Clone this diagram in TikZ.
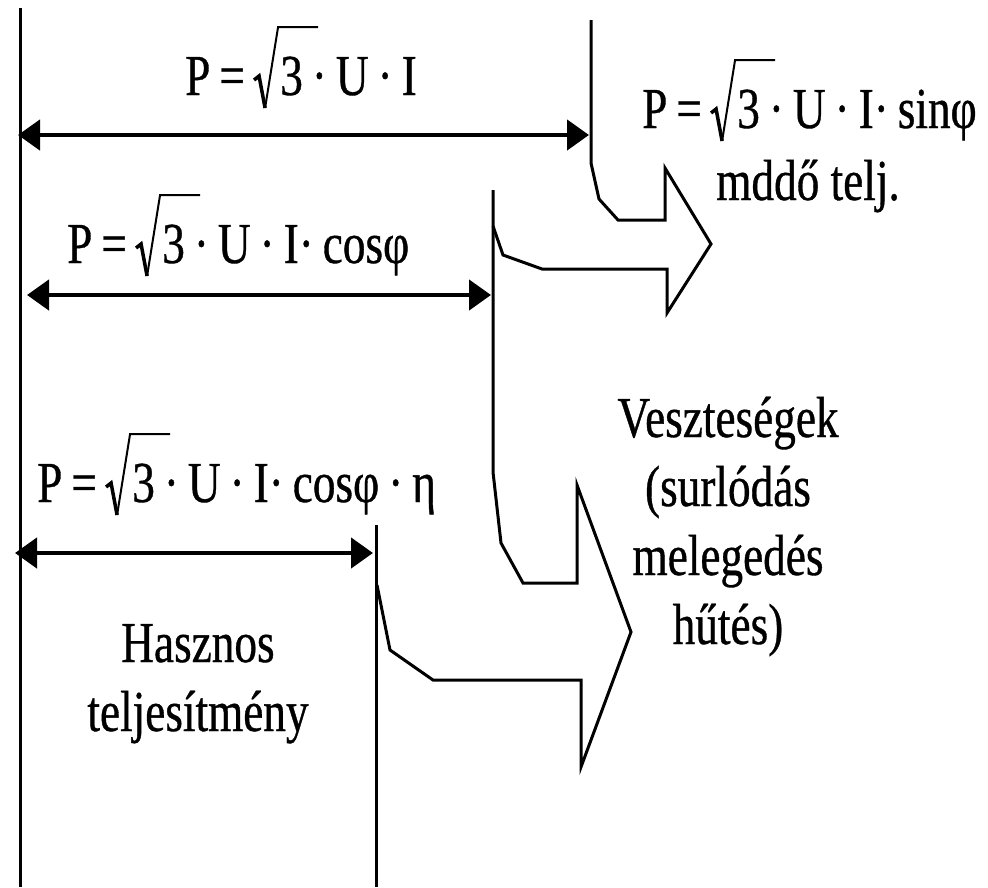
\documentclass[tikz,border=0pt]{standalone}
\usepackage{fontspec}
\setmainfont[FakeStretch=0.78,FakeBold=0.6]{Liberation Serif}
\usetikzlibrary{arrows.meta,calc}
\newcommand{\fsp}{\hspace{9pt}}
\begin{document}
\begin{tikzpicture}[x=1pt,y=-1pt,
  txt/.style={font=\fontsize{58}{69}\selectfont, inner sep=0pt},
  dimline/.style={line width=4.5pt, {Triangle[length=22pt,width=30pt]}-{Triangle[length=22pt,width=30pt]}},
  rule/.style={line width=3pt, line join=miter},
  radthick/.style={line width=3.5pt, line join=miter},
  radthin/.style={line width=2pt, line join=miter}]
\useasboundingbox (0,0) rectangle (988,887);
% vertical reference lines and outlines
\draw[rule] (20,8) -- (20,887);
\draw[rule] (591,20) -- (591,163) -- (599,199) -- (618,220) -- (665,220) -- (665,168)
  -- (711,244) -- (667,313) -- (667,269) -- (542,269) -- (503,255) -- (493,226);
\draw[rule] (493,190) -- (493,472) -- (501,543) -- (523,583) -- (577,583) -- (577,485)
  -- (631,632) -- (581,767) -- (581,680) -- (433,680) -- (390,650) -- (377,585);
\draw[rule] (376,525) -- (376,887);
% dimension arrows
\coordinate (a1) at (18,135); \coordinate (a2) at (589,135);
\coordinate (b1) at (27,295); \coordinate (b2) at (491,295);
\coordinate (c1) at (15,553); \coordinate (c2) at (373,553);
\draw[dimline] (a1) -- (a2);
\draw[dimline] (b1) -- (b2);
\draw[dimline] (c1) -- (c2);
% formulas
\node[txt, anchor=base west] (f1a) at (185,95) {P\fsp=};
\node[txt, anchor=base west] (f1b) at ($(f1a.base east)+(35,0)$) {3\fsp·\fsp U\fsp·\fsp I};
\node[txt, anchor=base west] (f2a) at (67,263) {P\fsp=};
\node[txt, anchor=base west] (f2b) at ($(f2a.base east)+(35,0)$) {3\fsp·\fsp U\fsp·\fsp I·\fsp cosφ};
\node[txt, anchor=base west] (f3a) at (642,128) {P\fsp=};
\node[txt, anchor=base west] (f3b) at ($(f3a.base east)+(35,0)$) {3\fsp·\fsp U\fsp·\fsp I·\fsp sinφ};
\node[txt, anchor=base] (f3c) at (808,200) {mddő telj.};
\node[txt, anchor=base west] (f4a) at (37,502) {P\fsp=};
\node[txt, anchor=base west] (f4b) at ($(f4a.base east)+(35,0)$) {3\fsp·\fsp U\fsp·\fsp I·\fsp cosφ\fsp·\fsp η};
% radical signs
\foreach \f in {f1b,f2b,f3b,f4b}{
  \draw[radthick] ($(\f.base west)+(-26,-15)$) -- ($(\f.base west)+(-21,-19)$) -- ($(\f.base west)+(-15,13)$);
  \draw[radthin] ($(\f.base west)+(-15,13)$) -- ($(\f.base west)+(-2,-68)$) -- ($(\f.base west)+(38,-68)$);
}
% labels
\node[txt, align=center, anchor=base] (loss) at (728,644) {Veszteségek\\(surlódás\\melegedés\\hűtés)};
\node[txt, align=center, anchor=base] (useful) at (198,731) {Hasznos\\teljesítmény};
\end{tikzpicture}
\end{document}
